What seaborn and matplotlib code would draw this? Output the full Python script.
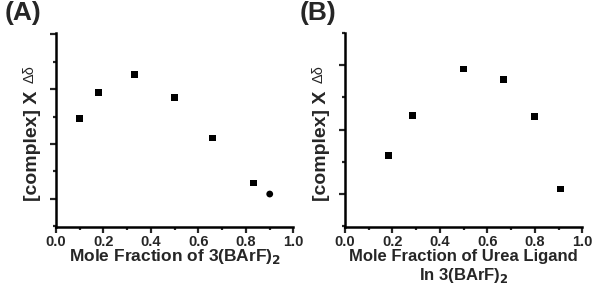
import pandas as pd
import matplotlib
matplotlib.use("Agg")
import matplotlib.pyplot as plt
import seaborn as sns
from matplotlib.ticker import MultipleLocator, NullFormatter

# data (y in arbitrary units)
frac_a = [0.10, 0.18, 0.33, 0.50, 0.66, 0.83, 0.90]
signal_a = [2.47, 2.94, 3.27, 2.84, 2.11, 1.29, 1.09]
shape_a = ["sq", "sq", "sq", "sq", "sq", "sq", "circ"]

frac_b = [0.182, 0.286, 0.50, 0.667, 0.80, 0.909]
signal_b = [1.60, 2.22, 2.94, 2.78, 2.20, 1.08]
shape_b = ["sq"] * 6

sns.set_theme(style="ticks")
plt.rcParams["font.family"] = ["Liberation Sans", "DejaVu Sans"]

fig = plt.figure(figsize=(5.93, 2.85), dpi=100)
ax_a = fig.add_axes([0.0944, 0.2035, 0.4005, 0.6807])
ax_b = fig.add_axes([0.5818, 0.2035, 0.4002, 0.6807])

df_a = pd.DataFrame({"x": frac_a, "y": signal_a, "m": shape_a})
df_b = pd.DataFrame({"x": frac_b, "y": signal_b, "m": shape_b})
marks = {"sq": "s", "circ": "o"}

for ax, df, ylim in [(ax_a, df_a, (0.49, 4.02)), (ax_b, df_b, (0.49, 3.50))]:
    sns.scatterplot(data=df, x="x", y="y", style="m", markers=marks,
                    color="black", s=24, edgecolor="none", legend=False, ax=ax)
    ax.set_xlim(0, 1.0)
    ax.set_ylim(*ylim)
    ax.xaxis.set_major_locator(MultipleLocator(0.2))
    ax.xaxis.set_minor_locator(MultipleLocator(0.1))
    ax.yaxis.set_major_locator(MultipleLocator(1.0))
    ax.yaxis.set_minor_locator(MultipleLocator(0.5))
    ax.yaxis.set_major_formatter(NullFormatter())
    ax.tick_params(which="major", direction="out", length=4, width=1.6,
                   labelsize=10.5, pad=1.5)
    ax.tick_params(which="minor", direction="out", length=2.5, width=1.6)
    for lab in ax.get_xticklabels():
        lab.set_fontweight("bold")
    sns.despine(ax=ax)
    for sp in ["left", "bottom"]:
        ax.spines[sp].set_linewidth(1.8)
        ax.spines[sp].set_color("black")
    ax.set_ylabel("")
    ax.set_facecolor("white")
    ax.text(-0.097, 0.42, "[complex] X", rotation=90, transform=ax.transAxes,
            ha="center", va="center", fontsize=14, fontweight="bold")
    ax.text(-0.11, 0.79, "Δδ", rotation=90, transform=ax.transAxes,
            ha="center", va="center", fontsize=10.5)

ax_a.set_xlabel("Mole Fraction of 3(BArF)$_\\mathbf{2}$", fontsize=12.5,
                fontweight="bold", labelpad=-1)
ax_b.set_xlabel("Mole Fraction of Urea Ligand\nIn 3(BArF)$_\\mathbf{2}$",
                fontsize=12, fontweight="bold", labelpad=0, linespacing=1.2)

fig.text(0.008, 0.995, "(A)", fontsize=19, fontweight="bold", va="top")
fig.text(0.505, 0.995, "(B)", fontsize=19, fontweight="bold", va="top")

fig.savefig("out.png", dpi=100, facecolor="white")
